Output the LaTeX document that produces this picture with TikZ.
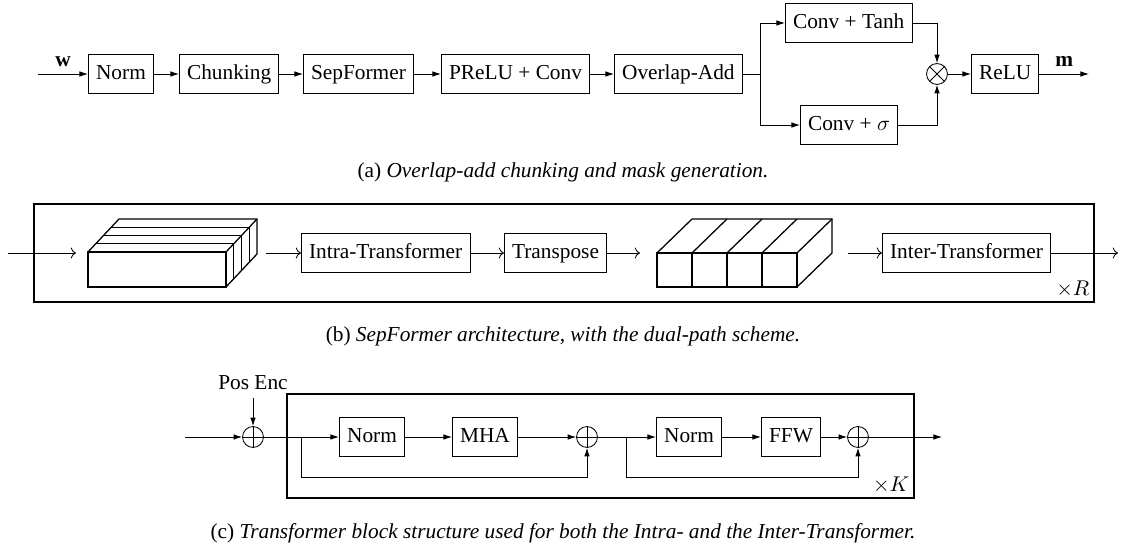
\documentclass[tikz,border=0pt]{standalone}
\usepackage{fontspec}
\setmainfont{Liberation Serif}
\usepackage{tikz}
\usetikzlibrary{arrows.meta, calc}

\begin{document}
\begin{tikzpicture}[x=0.469pt,y=-0.469pt]
  \tikzstyle{block} = [draw, rectangle, line width=0.4pt, anchor=west, inner xsep=3.6pt,
                       inner ysep=0pt, minimum height=18.3pt, text height=7pt, text depth=2pt]
  \tikzstyle{arr} = [-{Latex[length=4pt,width=2.6pt]}, line width=0.4pt]
  \tikzstyle{arrb} = [->, line width=0.4pt]
  \tikzstyle{frame} = [line width=1pt]
  \tikzstyle{sumc} = [draw, circle, line width=0.4pt, minimum size=9.8pt, inner sep=0pt]
  \tikzstyle{subcap} = [font=\normalsize]
  \useasboundingbox (0,0) rectangle (1121,547);
% (a) chunking and mask generation
    \coordinate (win) at (38,74);
    \node[block] (norm) at (88,74) {Norm};
    \node[block] (chunk) at (179,74) {Chunking};
    \node[block] (sepf) at (303,74) {SepFormer};
    \node[block] (prelu) at (441,74) {PReLU + Conv};
    \node[block] (ola) at (614,74) {Overlap-Add};
    \coordinate (split) at (760,74);
    \node[block] (tanh) at (785,23) {Conv + Tanh};
    \node[block] (sigm) at (800,125) {Conv + $\sigma$};
    \node[sumc] (mul) at (937,74) {};
    \draw[line width=0.4pt] (mul.45) -- (mul.225) (mul.135) -- (mul.315);
    \node[block] (relu) at (971,74) {ReLU};
    \coordinate (mout) at (1089,74);
    \draw[arr] (win) -- node[above] {$\mathbf{w}$} (norm);
    \draw[arr] (norm) -- (chunk);
    \draw[arr] (chunk) -- (sepf);
    \draw[arr] (sepf) -- (prelu);
    \draw[arr] (prelu) -- (ola);
    \draw[line width=0.4pt] (ola) -- (split);
    \draw[arr] (split) |- (tanh);
    \draw[arr] (split) |- (sigm);
    \draw[arr] (tanh) -| (mul);
    \draw[arr] (sigm) -| (mul);
    \draw[arr] (mul) -- (relu);
    \draw[arr] (relu) -- node[above] {$\mathbf{m}$} (mout);
    \node[subcap] (capa) at (563,172) {(a) \textit{Overlap-add chunking and mask generation.}};
% (b) SepFormer, dual-path
    \draw[frame] (34,204) rectangle (1094,302);
    \node[anchor=south east, inner sep=2pt] (rep) at (1094,302) {$\times R$};
    % chunked block, 4 slices in depth
    \def\dx{7.75}
    \def\dy{8.25}
    \draw[line width=0.6pt] (88,252) rectangle (226,287);
    \draw[line width=0.6pt] (88,252) -- (119,219) -- (257,219) -- (257,254) -- (226,287);
    \draw[line width=0.6pt] (226,252) -- (257,219);
    \foreach \k in {1,2,3}
      \draw[line width=0.6pt] ({88+\k*\dx},{252-\k*\dy}) -- ({226+\k*\dx},{252-\k*\dy})
                              -- ({226+\k*\dx},{287-\k*\dy});
    % transposed block, 4 slices along the front
    \draw[line width=0.6pt] (657,253) rectangle (797,287);
    \draw[line width=0.6pt] (692,219) -- (832,219) -- (832,253) -- (797,287);
    \foreach \xs in {657,692,727,762,797}
      \draw[line width=0.6pt] (\xs,253) -- ++(35,-34);
    \foreach \xs in {692,727,762}
      \draw[line width=0.6pt] (\xs,253) -- (\xs,287);
    \coordinate (bin) at (8,253);
    \coordinate (cubeAin) at (76,253);
    \coordinate (cubeAout) at (266,253);
    \node[block] (intra) at (301,253) {Intra-Transformer};
    \node[block] (trans) at (504,253) {Transpose};
    \coordinate (cubeBin) at (640,253);
    \coordinate (cubeBout) at (848,253);
    \node[block] (inter) at (882,253) {Inter-Transformer};
    \coordinate (bout) at (1118,253);
    \draw[arrb] (bin) -- (cubeAin);
    \draw[arrb] (cubeAout) -- (intra);
    \draw[arrb] (intra) -- (trans);
    \draw[arrb] (trans) -- (cubeBin);
    \draw[arrb] (cubeBout) -- (inter);
    \draw[arrb] (inter) -- (bout);
    \node[subcap] (capb) at (563,336) {(b) \textit{SepFormer architecture, with the dual-path scheme.}};
% (c) Transformer block
    \draw[frame] (287,394) rectangle (914,498);
    \node[anchor=south east, inner sep=2pt] (repk) at (914,498) {$\times K$};
    \node (pos) at (253,383) {Pos Enc};
    \coordinate (cin) at (185,437);
    \node[sumc] (add0) at (253,437) {};
    \coordinate (br1) at (301,437);
    \node[block] (norm1) at (339,437) {Norm};
    \node[block] (mha) at (452,437) {MHA};
    \node[sumc] (add1) at (587,437) {};
    \coordinate (br2) at (626,437);
    \node[block] (norm2) at (656,437) {Norm};
    \node[block] (ffw) at (761,437) {FFW};
    \node[sumc] (add2) at (858,437) {};
    \coordinate (cout) at (942,437);
    \foreach \s in {add0,add1,add2}
      \draw[line width=0.4pt] (\s.north) -- (\s.south) (\s.west) -- (\s.east);
    \draw[arr] (pos) -- (add0);
    \draw[arr] (cin) -- (add0);
    \draw[line width=0.4pt] (add0) -- (br1);
    \draw[arr] (br1) -- (norm1);
    \draw[arr] (norm1) -- (mha);
    \draw[arr] (mha) -- (add1);
    \draw[arr] (br1) -- ++(0,40) -| (add1);
    \draw[line width=0.4pt] (add1) -- (br2);
    \draw[arr] (br2) -- (norm2);
    \draw[arr] (norm2) -- (ffw);
    \draw[arr] (ffw) -- (add2);
    \draw[arr] (br2) -- ++(0,40) -| (add2);
    \draw[arr] (add2) -- (cout);
    \node[subcap] (capc) at (563,533) {(c) \textit{Transformer block structure used for both the Intra- and the Inter-Transformer.}};
\end{tikzpicture}
\end{document}
